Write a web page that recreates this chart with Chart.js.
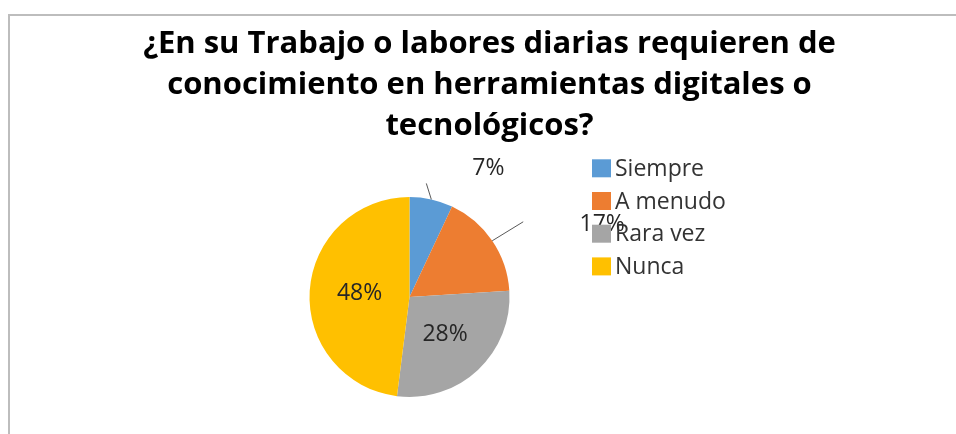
<!DOCTYPE html>
<html lang="es">
<head>
<meta charset="utf-8">
<title>Herramientas digitales</title>
<script src="https://cdn.jsdelivr.net/npm/chart.js@4.4.1/dist/chart.umd.min.js"></script>
<style>
  html, body { margin: 0; padding: 0; background: #fff; }
  #wrap { position: relative; width: 956px; height: 434px; }
</style>
</head>
<body>
<div id="wrap"><canvas id="chartPie"></canvas></div>
<script>
// ============================================================
// DATOS
// ============================================================

const TITLE_LINES = [
  '¿En su Trabajo o labores diarias requieren de',
  'conocimiento en herramientas digitales o',
  'tecnológicos?',
];
const CATEGORIES = ['Siempre', 'A menudo', 'Rara vez', 'Nunca'];
const VALUES = [7, 17, 28, 48];
const COLORS = ['#5B9BD5', '#ED7D31', '#A5A5A5', '#FFC000'];

// Colocación de las etiquetas (estilo "ajuste perfecto" de Excel)
// outside: desplazamientos relativos al punto medio del arco
const LABEL_PLACEMENT = [
  { line: [-5, -16], text: [57, -31] },
  { line: [31, -19], text: [110, -16] },
  { inside: 0.52 },
  { inside: 0.5 },
];

const FONT = "'Open Sans', Lato, sans-serif";

// ============================================================
// PLUGINS
// ============================================================

/** Fondo blanco y borde gris del área del gráfico */
const framePlugin = {
  id: 'frame',
  beforeDraw(chart) {
    const { ctx, width, height } = chart;
    ctx.save();
    ctx.fillStyle = '#FFFFFF';
    ctx.fillRect(0, 0, width, height);
    ctx.strokeStyle = '#BDBDBD';
    ctx.lineWidth = 2;
    ctx.beginPath();
    ctx.moveTo(width, 15);
    ctx.lineTo(9, 15);
    ctx.lineTo(9, height);
    ctx.stroke();
    ctx.restore();
  },
};

/** Título en tres líneas, centrado */
const titlePlugin = {
  id: 'titleLines',
  afterDraw(chart) {
    const { ctx } = chart;
    ctx.save();
    ctx.font = `700 31px ${FONT}`;
    ctx.fillStyle = '#000000';
    ctx.textAlign = 'center';
    ctx.textBaseline = 'alphabetic';
    TITLE_LINES.forEach((line, i) => ctx.fillText(line, 489.5, 53 + i * 41));
    ctx.restore();
  },
};

/** Etiquetas de porcentaje con líneas guía */
const labelsPlugin = {
  id: 'pieLabels',
  afterDatasetsDraw(chart) {
    const { ctx } = chart;
    const meta = chart.getDatasetMeta(0);
    const data = chart.data.datasets[0].data;
    const total = data.reduce((a, b) => a + b, 0);

    ctx.save();
    ctx.font = `400 23px ${FONT}`;
    ctx.fillStyle = '#262626';
    ctx.textAlign = 'center';
    ctx.textBaseline = 'middle';

    meta.data.forEach((arc, i) => {
      const { x, y, startAngle, endAngle, outerRadius } = arc.getProps(
        ['x', 'y', 'startAngle', 'endAngle', 'outerRadius'], true);
      const mid = (startAngle + endAngle) / 2;
      const text = `${Math.round((data[i] / total) * 100)}%`;
      const place = LABEL_PLACEMENT[i];

      if (place.inside) {
        const d = outerRadius * place.inside;
        ctx.fillText(text, x + Math.cos(mid) * d, y + Math.sin(mid) * d);
        return;
      }

      const px = x + Math.cos(mid) * outerRadius;
      const py = y + Math.sin(mid) * outerRadius;
      ctx.strokeStyle = '#595959';
      ctx.lineWidth = 1;
      ctx.beginPath();
      ctx.moveTo(px, py);
      ctx.lineTo(px + place.line[0], py + place.line[1]);
      ctx.stroke();
      ctx.fillText(text, px + place.text[0], py + place.text[1]);
    });
    ctx.restore();
  },
};

/** Leyenda a la derecha (se dibuja sobre las etiquetas, como en Excel) */
const legendPlugin = {
  id: 'sideLegend',
  afterDraw(chart) {
    const { ctx } = chart;
    const ds = chart.data.datasets[0];
    ctx.save();
    ctx.font = `400 23px ${FONT}`;
    ctx.textAlign = 'left';
    ctx.textBaseline = 'middle';
    chart.data.labels.forEach((label, i) => {
      const cy = 168.3 + i * 32.7;
      ctx.fillStyle = ds.backgroundColor[i];
      ctx.fillRect(592, cy - 9, 19, 18);
      ctx.fillStyle = '#333333';
      ctx.fillText(label, 615, cy + 1);
    });
    ctx.restore();
  },
};

// ============================================================
// GRÁFICO
// ============================================================

const canvas = document.getElementById('chartPie');

new Chart(canvas, {
  type: 'pie',
  data: {
    labels: CATEGORIES,
    datasets: [{
      data: VALUES,
      backgroundColor: COLORS,
      borderWidth: 0,
      hoverOffset: 0,
    }],
  },
  options: {
    responsive: true,
    maintainAspectRatio: false,
    animation: false,
    events: [],
    layout: {
      padding: { left: 309, right: 446, top: 197, bottom: 37 },
    },
    plugins: {
      legend: { display: false },
      title: { display: false },
      tooltip: { enabled: false },
    },
  },
  plugins: [framePlugin, labelsPlugin, titlePlugin, legendPlugin],
});
</script>
</body>
</html>
